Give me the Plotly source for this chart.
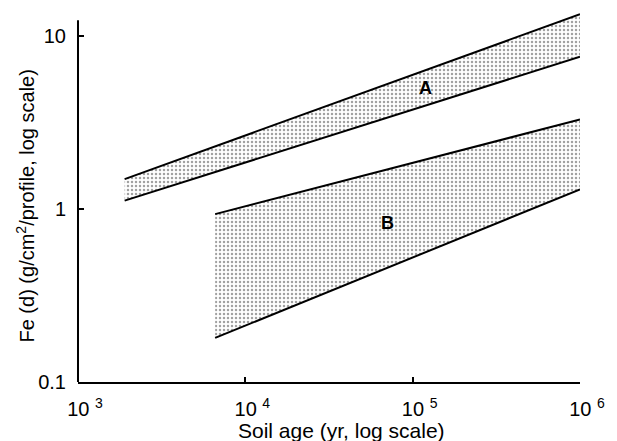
import numpy as np
import plotly.graph_objects as go

# Band A (upper/lower boundaries)
a_age = [1900, 1.0e6]
a_upper = [1.49, 13.4]
a_lower = [1.12, 7.6]

# Band B
b_age = [6600, 1.0e6]
b_upper = [0.935, 3.3]
b_lower = [0.18, 1.3]

x_tickvals = [1e3, 1e4, 1e5, 1e6]
x_ticktext = ["10 <sup>3</sup>", "10 <sup>4</sup>", "10 <sup>5</sup>", "10 <sup>6</sup>"]
y_tickvals = [0.1, 1, 10]
y_ticktext = ["0.1", "1", "10"]

FONT = "Liberation Sans, Arial, sans-serif"
pattern = dict(shape=".", fgcolor="#444444", bgcolor="white", size=4, solidity=0.3)

fig = go.Figure()
for xs, lo, up in [(a_age, a_lower, a_upper), (b_age, b_lower, b_upper)]:
    fig.add_trace(go.Scatter(x=xs, y=lo, mode="lines",
                             line=dict(color="black", width=2), showlegend=False,
                             hoverinfo="skip"))
    fig.add_trace(go.Scatter(x=xs, y=up, mode="lines", fill="tonexty",
                             fillcolor="rgba(0,0,0,0)", fillpattern=pattern,
                             line=dict(color="black", width=2), showlegend=False,
                             hoverinfo="skip"))

fig.add_annotation(x=5.079, y=0.70, text="<b>A</b>", showarrow=False,
                   font=dict(size=18, color="black", family=FONT))
fig.add_annotation(x=4.85, y=-0.081, text="<b>B</b>", showarrow=False,
                   font=dict(size=18, color="black", family=FONT))

# axis titles
fig.add_annotation(xref="paper", yref="paper", x=0.525, y=-0.13, yanchor="middle",
                   text="Soil age (yr, log scale)", showarrow=False,
                   font=dict(size=21, color="black", family=FONT))
fig.add_annotation(xref="paper", yref="paper", x=-0.105, y=0.475, xanchor="center",
                   yanchor="middle", textangle=-90,
                   text="Fe (d) (g/cm<sup>2</sup>/profile, log scale)", showarrow=False,
                   font=dict(size=20, color="black", family=FONT))

# left axis line drawn as an annotation-free shape in pixel-safe paper coords
fig.add_shape(type="rect", xref="paper", yref="paper", x0=-0.002, x1=0.002,
              y0=0, y1=(1.092 + 1) / 2.14, fillcolor="black",
              line=dict(width=0), layer="above")

fig.update_xaxes(type="log", range=[3, 6], tickvals=x_tickvals, ticktext=x_ticktext,
                 ticks="inside", ticklen=5, tickwidth=2, tickcolor="black",
                 showline=True, linecolor="black", linewidth=2, showgrid=False,
                 zeroline=False, ticklabelshift=7, ticklabelstandoff=8,
                 tickfont=dict(size=20, color="black", family=FONT))
fig.update_yaxes(type="log", range=[-1, 1.14], tickvals=y_tickvals, ticktext=y_ticktext,
                 ticks="inside", ticklen=6, tickwidth=2, tickcolor="black",
                 showline=False, showgrid=False, zeroline=False, ticklabelstandoff=11,
                 tickfont=dict(size=20, color="black", family=FONT))

fig.update_layout(width=617, height=441, margin=dict(l=78, r=28, t=12, b=59),
                  paper_bgcolor="white", plot_bgcolor="white", showlegend=False)

fig.write_html("out.html")
